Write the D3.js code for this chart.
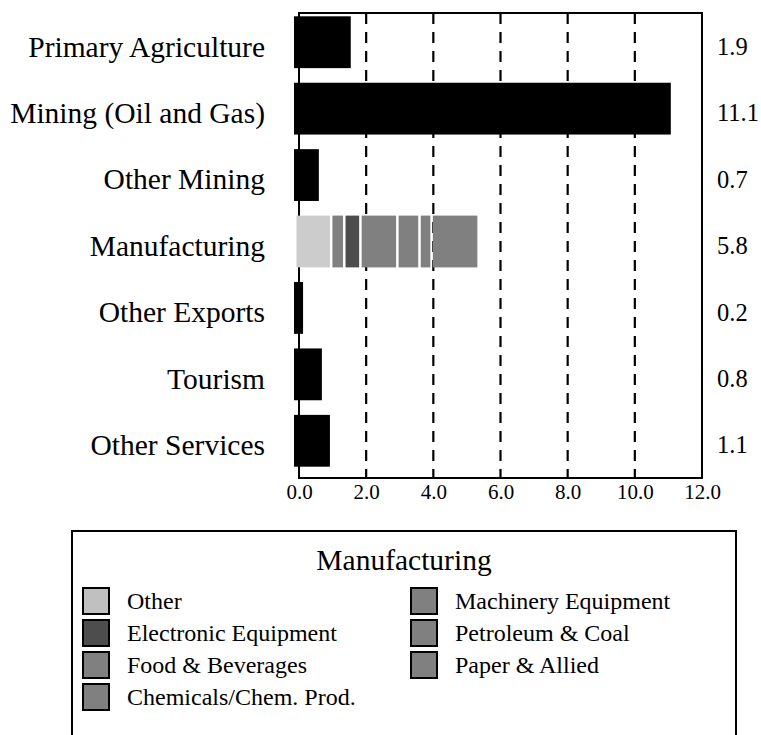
<!DOCTYPE html>
<html>
<head>
<meta charset="utf-8">
<script src="https://cdn.jsdelivr.net/npm/d3@7"></script>
<style>
  html, body { margin: 0; padding: 0; background: #fff; }
  svg { display: block; font-family: "Liberation Serif", "Times New Roman", serif; }
</style>
</head>
<body>
<svg id="chart" width="761" height="735"></svg>
<script>
// ---- data ----
const categories = ["Primary Agriculture", "Mining (Oil and Gas)", "Other Mining", "Manufacturing",
                    "Other Exports", "Tourism", "Other Services"];
const barValues = [1.69, 11.22, 0.74, null, 0.27, 0.83, 1.07];
const valueLabels = ["1.9", "11.1", "0.7", "5.8", "0.2", "0.8", "1.1"];
const mfgSegments = ["Other", "Food & Beverages", "Electronic Equipment", "Chemicals/Chem. Prod.",
                     "Machinery Equipment", "Petroleum & Coal", "Paper & Allied"];
const mfgValues = [1.07, 0.39, 0.48, 1.10, 0.66, 0.36, 1.40];
const legendOrder = ["Other", "Electronic Equipment", "Food & Beverages", "Chemicals/Chem. Prod.",
                     "Machinery Equipment", "Petroleum & Coal", "Paper & Allied"];
const mfgColors = ["#cccccc", "#808080", "#4d4d4d", "#808080", "#808080", "#808080", "#808080"];
const xTicks = [0, 2, 4, 6, 8, 10, 12];
const gridTicks = [2, 4, 6, 8, 10];

// ---- layout ----
const svg = d3.select("#chart");
const plot = { left: 299, right: 702, top: 13, bottom: 478 };
const x = d3.scaleLinear().domain([0, 12]).range([plot.left, plot.right]);
const y = d3.scaleBand().domain(categories).range([plot.top, plot.bottom]).paddingInner(0.22).paddingOuter(0.11);
const barShift = -4;   // bars sit slightly above band centre
const barOrigin = x(0) - 5;
const color = d3.scaleOrdinal().domain(mfgSegments).range(mfgColors);

// gridlines
svg.append("g").selectAll("line").data(gridTicks).join("line")
  .attr("x1", d => x(d)).attr("x2", d => x(d))
  .attr("y1", plot.top).attr("y2", plot.bottom)
  .attr("stroke", "#000").attr("stroke-width", 2.2)
  .attr("stroke-dasharray", "11,8");

// frame
svg.append("rect")
  .attr("x", plot.left).attr("y", plot.top)
  .attr("width", plot.right - plot.left).attr("height", plot.bottom - plot.top)
  .attr("fill", "none").attr("stroke", "#000").attr("stroke-width", 2);

// simple bars
const simple = categories.map((c, i) => ({ c, v: barValues[i] })).filter(d => d.v !== null);
svg.append("g").selectAll("rect").data(simple).join("rect")
  .attr("x", barOrigin)
  .attr("y", d => y(d.c) + barShift)
  .attr("width", d => x(d.v) - x(0))
  .attr("height", y.bandwidth())
  .attr("fill", "#000");

// stacked manufacturing bar
let acc = 0;
const stacked = mfgSegments.map((s, i) => {
  const d = { s, x0: acc, x1: acc + mfgValues[i] };
  acc += mfgValues[i];
  return d;
});
const gap = 2.5;
svg.append("g").selectAll("rect").data(stacked).join("rect")
  .attr("x", d => barOrigin + (x(d.x0) - x(0)) + gap)
  .attr("y", y("Manufacturing") + barShift)
  .attr("width", d => x(d.x1) - x(d.x0) - gap)
  .attr("height", y.bandwidth())
  .attr("fill", d => color(d.s));

// category labels
svg.append("g").selectAll("text").data(categories).join("text")
  .attr("x", 265)
  .attr("y", d => y(d) + y.bandwidth() / 2)
  .attr("dy", "0.35em")
  .attr("text-anchor", "end")
  .attr("font-size", 29.5)
  .text(d => d);

// value labels
svg.append("g").selectAll("text").data(categories).join("text")
  .attr("x", 717)
  .attr("y", d => y(d) + y.bandwidth() / 2)
  .attr("dy", "0.35em")
  .attr("font-size", 24.5)
  .text((d, i) => valueLabels[i]);

// x axis
const xAxis = d3.axisBottom(x).tickValues(xTicks).tickFormat(d3.format(".1f")).tickSize(0).tickPadding(6);
const gx = svg.append("g").attr("transform", `translate(0,${plot.bottom})`).call(xAxis);
gx.select(".domain").remove();
gx.selectAll("text").attr("font-size", 21).attr("font-family", "Liberation Serif").attr("fill", "#000");

// legend
const lg = svg.append("g");
lg.append("rect").attr("x", 72).attr("y", 531).attr("width", 664).attr("height", 230)
  .attr("fill", "none").attr("stroke", "#000").attr("stroke-width", 2);
lg.append("text").attr("x", 404).attr("y", 560).attr("dy", "0.35em")
  .attr("text-anchor", "middle").attr("font-size", 29.5).text("Manufacturing");
const items = lg.selectAll("g.item").data(legendOrder).join("g").attr("class", "item")
  .attr("transform", (d, i) => {
    const col = i < 4 ? 0 : 1, row = i < 4 ? i : i - 4;
    return `translate(${col === 0 ? 82 : 410},${601 + row * 32})`;
  });
items.append("rect").attr("x", 1).attr("y", -13).attr("width", 26).attr("height", 26)
  .attr("fill", d => d === "Other" ? "#c0c0c0" : color(d)).attr("stroke", "#000").attr("stroke-width", 2);
items.append("text").attr("x", 45).attr("y", 0).attr("dy", "0.35em").attr("font-size", 24).text(d => d);
</script>
</body>
</html>
